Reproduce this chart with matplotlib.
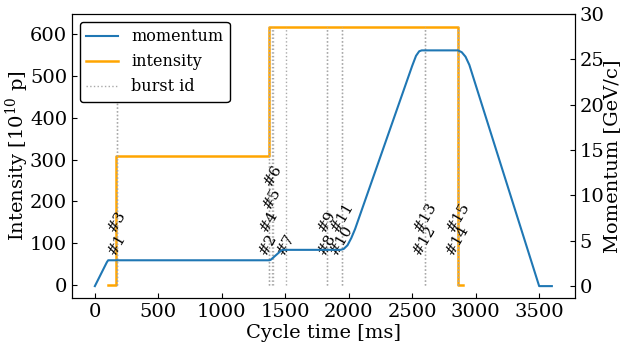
import numpy as np
import matplotlib
matplotlib.use('Agg')
import matplotlib.pyplot as plt

plt.rcParams['font.family'] = 'serif'
plt.rcParams['font.serif'] = ['DejaVu Serif']
plt.rcParams['mathtext.fontset'] = 'dejavuserif'
plt.rcParams['font.size'] = 14

# momentum program [ms], [GeV/c]
mom_t = [0, 95, 105, 1375, 1385, 1470, 1485, 1935, 1960, 1990, 2020, 2050,
         2500, 2530, 2555, 2575, 2860, 2890, 2920, 2950, 3500, 3600]
mom_p = [0, 2.65, 2.85, 2.85, 2.9, 3.95, 4.0, 4.0, 4.1, 4.5, 5.3, 6.3,
         24.3, 25.4, 25.9, 26.0, 26.0, 25.8, 25.3, 24.4, 0, 0]

# beam intensity [1e10 p]
int_t = [105, 170, 1375, 2862, 2900]
int_v = [0, 308, 617, 0, 0]

# burst ids and their times [ms]
burst_id = list(range(1, 16))
burst_t = [172, 1368, 178, 1375, 1395, 1400, 1508, 1825, 1830,
           1945, 1950, 2598, 2603, 2858, 2864]
label_level = [0, 0, 1, 1, 2, 3, 0, 0, 1, 0, 1, 0, 1, 0, 1]

fig, ax = plt.subplots(figsize=(6.24, 3.44), dpi=100)
fig.subplots_adjust(left=0.1154, right=0.921, bottom=0.134, top=0.959)
ax2 = ax.twinx()

l_int, = ax.plot(int_t, int_v, drawstyle='steps-post', color='orange',
                 lw=1.8, label='intensity')
ax.vlines(burst_t, 0, max(int_v), colors='darkgrey', linestyles=':', lw=1)
for i, t, lv in zip(burst_id, burst_t, label_level):
    ax.text(t, 65 + lv * 55, '#%d' % i, rotation=60, ha='center',
            va='bottom', fontsize=11)
l_burst, = ax.plot([], [], color='darkgrey', ls=':', lw=1, label='burst id')

l_mom, = ax2.plot(mom_t, mom_p, color='#1f77b4', lw=1.5, label='momentum')
ax2.set_ylim(top=30)

ax.set_xlabel('Cycle time [ms]', labelpad=2)
ax.set_ylabel('Intensity [10$^{10}$ p]', labelpad=-1)
ax2.set_ylabel('Momentum [GeV/c]', labelpad=-1)
ax.set_xticks(np.arange(0, 3501, 500))
ax.set_yticks(np.arange(0, 601, 100))
ax2.set_yticks(np.arange(0, 31, 5))
ax.tick_params(direction='in')
ax2.tick_params(direction='in')

leg = ax2.legend(handles=[l_mom, l_int, l_burst], loc='upper left',
                 fontsize=11.5, framealpha=1, edgecolor='black')
leg.get_frame().set_linewidth(1.0)

plt.savefig('out.png')
